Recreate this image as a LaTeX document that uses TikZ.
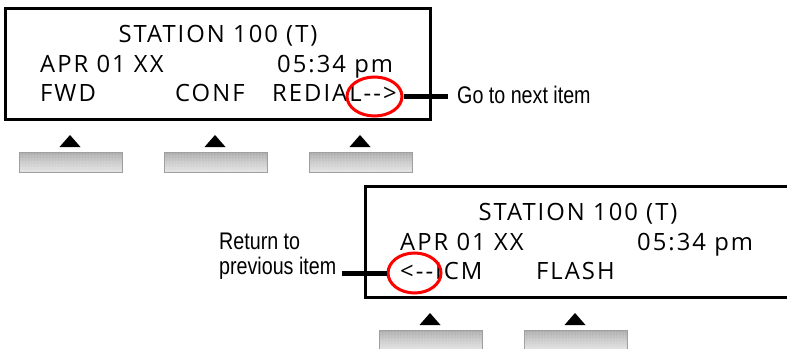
\documentclass[tikz,border=0pt]{standalone}
\usepackage{fontspec}
\usetikzlibrary{shapes.geometric, patterns}
\newfontfamily\lcdfont[LetterSpace=8.5]{Open Sans}
\newfontfamily\notefont[FakeStretch=0.82]{Liberation Sans}

\tikzset{
  lcd/.style={draw, line width=3pt, minimum width=425pt, minimum height=111pt, inner sep=0pt},
  lcdtext/.style={font=\lcdfont\fontsize{23.8}{28}\selectfont, anchor=base west, inner sep=0pt},
  ring/.style={ellipse, draw=red, line width=3pt, inner sep=0pt},
  note/.style={font=\notefont\fontsize{24}{25}\selectfont, inner sep=0pt},
  callout/.style={line width=5pt},
  keybar/.style={top color=gray!65, bottom color=gray!20, middle color=gray!40, draw=gray!75, line width=0.8pt},
  keydots/.style={pattern=dots, pattern color=white!85!gray},
}

\begin{document}
\begin{tikzpicture}[x=1pt, y=-1pt]
  \useasboundingbox (0,0) rectangle (787,348);
  \clip (0,0) rectangle (787,348);

  % first display
  \node[lcd] (disp1) at (217.5,63.5) {};
  \node[lcdtext, anchor=base] (stat1) at (218,42) {STATION 100 (T)};
  \node[lcdtext] (date1) at (40,72) {APR 01 XX};
  \node[lcdtext] (time1) at (277,72) {05:34 pm};
  \node[lcdtext] (fwd) at (40,101) {FWD};
  \node[lcdtext] (conf) at (175,101) {CONF};
  \node[lcdtext] (redial) at (272,101) {REDIAL-{}->};

  % soft keys
  \foreach \kx in {19,164,309} {
    \fill (\kx+51,135) -- (\kx+61.5,147) -- (\kx+40.5,147) -- cycle;
    \shade[keybar] (\kx,152) rectangle (\kx+103,172);
    \fill[keydots] (\kx+1,153) rectangle (\kx+102,171);
  }

  % next item
  \node[ring, minimum width=55pt, minimum height=39pt] (nextmark) at (374.5,96.5) {};
  \node[note, anchor=base west, inner xsep=9pt] (nextlbl) at (448,103) {Go to next item};
  \draw[callout] (nextmark.east) -- (nextmark.east -| nextlbl.west);

  % second display
  \begin{scope}[shift={(360,178)}]
    \node[lcd] (disp2) at (217.5,63.5) {};
    \node[lcdtext, anchor=base] (stat2) at (218,42) {STATION 100 (T)};
    \node[lcdtext] (date2) at (40,72) {APR 01 XX};
    \node[lcdtext] (time2) at (277,72) {05:34 pm};
    \node[lcdtext] (icm) at (40,101) {<-{}-ICM};
    \node[lcdtext] (flash) at (176,101) {FLASH};

    \foreach \kx in {19,164} {
      \fill (\kx+51,135) -- (\kx+61.5,147) -- (\kx+40.5,147) -- cycle;
      \shade[keybar] (\kx,152) rectangle (\kx+103,172);
      \fill[keydots] (\kx+1,153) rectangle (\kx+102,171);
    }

    \node[ring, minimum width=53pt, minimum height=40pt] (prevmark) at (54.5,95) {};
  \end{scope}

  % previous item
  \node[note, align=left, anchor=north west, inner xsep=6pt] (prevlbl) at (213,233) {Return to\\previous item};
  \draw[callout] (prevmark.west) -- (prevmark.west -| prevlbl.east);
\end{tikzpicture}
\end{document}
